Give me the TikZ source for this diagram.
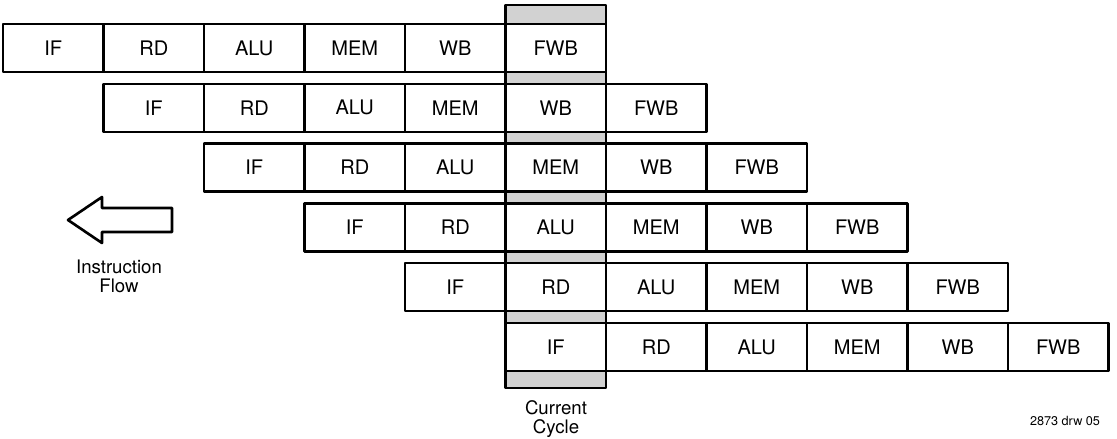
\documentclass[tikz,border=0pt]{standalone}
\usepackage{fontspec}
\setmainfont{TeX Gyre Heros}
\usetikzlibrary{positioning}

\tikzset{
  stage/.style={draw, fill=white, line width=0.7pt, minimum width=1.005cm,
    minimum height=0.48cm, inner sep=0pt, outer sep=0pt,
    font=\fontsize{5.7}{6}\selectfont},
  cyclebar/.style={draw, fill=gray!35, line width=0.75pt},
  caption/.style={align=center, inner sep=0pt, font=\fontsize{5.3}{5.4}\selectfont}
}

\begin{document}
\begin{tikzpicture}[line join=round]
    \useasboundingbox (0,0) rectangle (11.17,4.38);

    % current cycle column (shaded)
    \draw[cyclebar] (5.055,0.50) rectangle (6.06,4.33);

    % instruction 1
    \node[stage] (a1) at (0.5325,3.90) {IF};
    \node[stage, right=0pt of a1] (a2) {RD};
    \node[stage, right=0pt of a2] (a3) {ALU};
    \node[stage, right=0pt of a3] (a4) {MEM};
    \node[stage, right=0pt of a4] (a5) {WB};
    \node[stage, right=0pt of a5] (a6) {FWB};

    % instruction 2
    \node[stage] (b1) at (1.5375,3.302) {IF};
    \node[stage, right=0pt of b1] (b2) {RD};
    \node[stage, right=0pt of b2] (b3) {ALU};
    \node[stage, right=0pt of b3] (b4) {MEM};
    \node[stage, right=0pt of b4] (b5) {WB};
    \node[stage, right=0pt of b5] (b6) {FWB};

    % instruction 3
    \node[stage] (c1) at (2.5425,2.704) {IF};
    \node[stage, right=0pt of c1] (c2) {RD};
    \node[stage, right=0pt of c2] (c3) {ALU};
    \node[stage, right=0pt of c3] (c4) {MEM};
    \node[stage, right=0pt of c4] (c5) {WB};
    \node[stage, right=0pt of c5] (c6) {FWB};

    % instruction 4
    \node[stage] (d1) at (3.5475,2.106) {IF};
    \node[stage, right=0pt of d1] (d2) {RD};
    \node[stage, right=0pt of d2] (d3) {ALU};
    \node[stage, right=0pt of d3] (d4) {MEM};
    \node[stage, right=0pt of d4] (d5) {WB};
    \node[stage, right=0pt of d5] (d6) {FWB};

    % instruction 5
    \node[stage] (e1) at (4.5525,1.508) {IF};
    \node[stage, right=0pt of e1] (e2) {RD};
    \node[stage, right=0pt of e2] (e3) {ALU};
    \node[stage, right=0pt of e3] (e4) {MEM};
    \node[stage, right=0pt of e4] (e5) {WB};
    \node[stage, right=0pt of e5] (e6) {FWB};

    % instruction 6
    \node[stage] (f1) at (5.5575,0.91) {IF};
    \node[stage, right=0pt of f1] (f2) {RD};
    \node[stage, right=0pt of f2] (f3) {ALU};
    \node[stage, right=0pt of f3] (f4) {MEM};
    \node[stage, right=0pt of f4] (f5) {WB};
    \node[stage, right=0pt of f5] (f6) {FWB};

    % flow arrow
    \draw[line width=0.75pt] (0.68,2.18) -- (1.02,2.41) -- (1.02,2.30) -- (1.72,2.30)
        -- (1.72,2.06) -- (1.02,2.06) -- (1.02,1.95) -- cycle;

    \node[caption] (flow) at (1.19,1.615) {Instruction\\Flow};
    \node[caption] (current) at (5.56,0.19) {Current\\Cycle};
    \node[font=\fontsize{3.6}{4}\selectfont, inner sep=0pt] (drw) at (10.65,0.17) {2873 drw 05};
\end{tikzpicture}
\end{document}
